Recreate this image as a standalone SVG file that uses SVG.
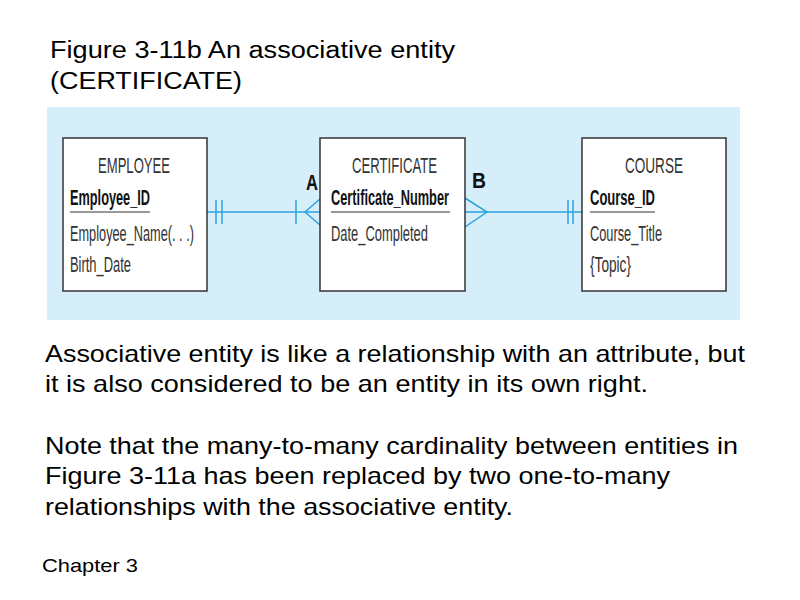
<svg xmlns="http://www.w3.org/2000/svg" width="800" height="600" viewBox="0 0 800 600">
<style>
.t{font-family:"Liberation Sans",Arial,sans-serif;fill:#000}
.d{font-family:"Liberation Sans",Arial,sans-serif;font-size:22px;fill:#333}
.b{font-weight:bold;fill:#111}
.box{fill:#fff;stroke:#333;stroke-width:1.5}
.c{stroke:#2aa3dc;stroke-width:1.5;fill:none}
</style>
<rect width="800" height="600" fill="#fff"/>
<text class="t" x="50" y="58" font-size="23" textLength="405" lengthAdjust="spacingAndGlyphs">Figure 3-11b An associative entity</text>
<text class="t" x="50" y="89" font-size="23" textLength="192" lengthAdjust="spacingAndGlyphs">(CERTIFICATE)</text>
<rect x="47" y="107" width="693" height="213" fill="#d5eef9"/>
<g id="connectors">
<line class="c" x1="207" y1="212" x2="320" y2="212"/>
<line class="c" x1="216" y1="200" x2="216" y2="224"/>
<line class="c" x1="222" y1="200" x2="222" y2="224"/>
<line class="c" x1="296" y1="200" x2="296" y2="224"/>
<polyline class="c" points="320,199 305,212 320,225"/>
<line class="c" x1="465" y1="212" x2="582" y2="212"/>
<polyline class="c" points="465,198 487,212 465,227"/>
<line class="c" x1="568" y1="200" x2="568" y2="224"/>
<line class="c" x1="573" y1="200" x2="573" y2="224"/>
<text class="t b" x="306" y="190" font-size="22" textLength="12" lengthAdjust="spacingAndGlyphs">A</text>
<text class="t b" x="472" y="188" font-size="22" textLength="14" lengthAdjust="spacingAndGlyphs">B</text>
</g>
<g id="employee">
<rect class="box" x="63" y="138" width="144" height="153"/>
<text class="d" x="98" y="173" textLength="72" lengthAdjust="spacingAndGlyphs">EMPLOYEE</text>
<text class="d b" x="70" y="205" textLength="80" lengthAdjust="spacingAndGlyphs">Employee_ID</text>
<line x1="70" y1="212" x2="150" y2="212" stroke="#333"/>
<text class="d" x="70" y="241" textLength="124" lengthAdjust="spacingAndGlyphs">Employee_Name(. . .)</text>
<text class="d" x="70" y="272" textLength="61" lengthAdjust="spacingAndGlyphs">Birth_Date</text>
</g>
<g id="certificate">
<rect class="box" x="320" y="138" width="145" height="153"/>
<text class="d" x="352" y="173" textLength="85" lengthAdjust="spacingAndGlyphs">CERTIFICATE</text>
<text class="d b" x="331" y="205" textLength="118" lengthAdjust="spacingAndGlyphs">Certificate_Number</text>
<line x1="331" y1="212" x2="450" y2="212" stroke="#333"/>
<text class="d" x="331" y="241" textLength="97" lengthAdjust="spacingAndGlyphs">Date_Completed</text>
</g>
<g id="course">
<rect class="box" x="582" y="138" width="144" height="153"/>
<text class="d" x="625" y="173" textLength="58" lengthAdjust="spacingAndGlyphs">COURSE</text>
<text class="d b" x="590" y="205" textLength="65" lengthAdjust="spacingAndGlyphs">Course_ID</text>
<line x1="590" y1="212" x2="655" y2="212" stroke="#333"/>
<text class="d" x="590" y="241" textLength="72" lengthAdjust="spacingAndGlyphs">Course_Title</text>
<text class="d" x="590" y="272" textLength="41" lengthAdjust="spacingAndGlyphs">{Topic}</text>
</g>
<text class="t" x="45" y="362" font-size="24" textLength="700" lengthAdjust="spacingAndGlyphs">Associative entity is like a relationship with an attribute, but</text>
<text class="t" x="45" y="392" font-size="24" textLength="603" lengthAdjust="spacingAndGlyphs">it is also considered to be an entity in its own right.</text>
<text class="t" x="45" y="454" font-size="24" textLength="693" lengthAdjust="spacingAndGlyphs">Note that the many-to-many cardinality between entities in</text>
<text class="t" x="45" y="484" font-size="24" textLength="625" lengthAdjust="spacingAndGlyphs">Figure 3-11a has been replaced by two one-to-many</text>
<text class="t" x="45" y="515" font-size="24" textLength="468" lengthAdjust="spacingAndGlyphs">relationships with the associative entity.</text>
<text class="t" x="42" y="572" font-size="19" textLength="96" lengthAdjust="spacingAndGlyphs">Chapter 3</text>
</svg>
